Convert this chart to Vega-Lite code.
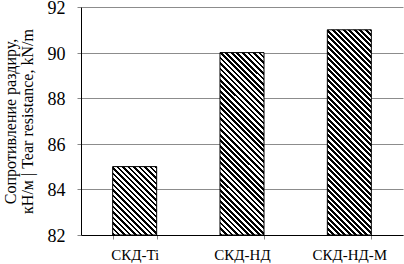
{
"$schema": "https://vega.github.io/schema/vega-lite/v6.json",
"width": 322, "height": 228, "autosize": "none",
"padding": {"left": 81, "top": 7, "right": 1, "bottom": 29},
"background": "white",
"data": {"values": [{"sample": "СКД-Ti", "value": 85}, {"sample": "СКД-НД", "value": 90}, {"sample": "СКД-НД-М", "value": 91}]},
"mark": {"type": "bar", "stroke": "#000", "strokeWidth": 1},
"encoding": {
"x": {"field": "sample", "type": "nominal", "sort": null, "scale": {"paddingInner": 0.59, "paddingOuter": 0.295},
 "axis": {"title": null, "labelAngle": 0, "labelFont": "Liberation Serif", "labelFontSize": 15, "labelColor": "#000", "labelPadding": 8, "tickBand": "extent", "tickSize": 4, "tickColor": "#888", "domainColor": "#000", "grid": false}},
"y": {"field": "value", "type": "quantitative", "scale": {"domain": [82, 92], "nice": false, "zero": false},
 "axis": {"values": [82, 84, 86, 88, 90, 92], "title": ["Сопротивление раздиру,", "кН/м | Tear resistance, kN/m"], "titleFont": "Liberation Serif", "titleFontSize": 16, "titleFontWeight": "normal", "titleColor": "#000", "titleX": -66, "titleY": 114, "titleAngle": -90, "titleAlign": "center", "titleBaseline": "alphabetic", "titleLineHeight": 17, "labelFont": "Liberation Serif", "labelFontSize": 18, "labelColor": "#000", "labelPadding": 12, "labelOffset": 1.5, "labelFlush": false, "labelOverlap": false, "tickSize": 4, "tickColor": "#888", "grid": true, "gridColor": "#8c8c8c", "domainColor": "#000"}},
"y2": {"datum": 82},
"fill": {"condition": [
 {"test": "datum.sample === 'СКД-Ti'", "value": {"gradient": "linear", "x1": 0, "y1": 1, "x2": 1.682956, "y2": -1.616232, "stops": [
{"offset":0,"color":"#000"},
{"offset":0.0109,"color":"#000"},{"offset":0.0109,"color":"#fff"},
{"offset":0.0217,"color":"#fff"},{"offset":0.0217,"color":"#000"},
{"offset":0.0326,"color":"#000"},{"offset":0.0326,"color":"#fff"},
{"offset":0.0435,"color":"#fff"},{"offset":0.0435,"color":"#000"},
{"offset":0.0543,"color":"#000"},{"offset":0.0543,"color":"#fff"},
{"offset":0.0652,"color":"#fff"},{"offset":0.0652,"color":"#000"},
{"offset":0.0761,"color":"#000"},{"offset":0.0761,"color":"#fff"},
{"offset":0.087,"color":"#fff"},{"offset":0.087,"color":"#000"},
{"offset":0.0978,"color":"#000"},{"offset":0.0978,"color":"#fff"},
{"offset":0.1087,"color":"#fff"},{"offset":0.1087,"color":"#000"},
{"offset":0.1196,"color":"#000"},{"offset":0.1196,"color":"#fff"},
{"offset":0.1304,"color":"#fff"},{"offset":0.1304,"color":"#000"},
{"offset":0.1413,"color":"#000"},{"offset":0.1413,"color":"#fff"},
{"offset":0.1522,"color":"#fff"},{"offset":0.1522,"color":"#000"},
{"offset":0.163,"color":"#000"},{"offset":0.163,"color":"#fff"},
{"offset":0.1739,"color":"#fff"},{"offset":0.1739,"color":"#000"},
{"offset":0.1848,"color":"#000"},{"offset":0.1848,"color":"#fff"},
{"offset":0.1957,"color":"#fff"},{"offset":0.1957,"color":"#000"},
{"offset":0.2065,"color":"#000"},{"offset":0.2065,"color":"#fff"},
{"offset":0.2174,"color":"#fff"},{"offset":0.2174,"color":"#000"},
{"offset":0.2283,"color":"#000"},{"offset":0.2283,"color":"#fff"},
{"offset":0.2391,"color":"#fff"},{"offset":0.2391,"color":"#000"},
{"offset":0.25,"color":"#000"},{"offset":0.25,"color":"#fff"},
{"offset":0.2609,"color":"#fff"},{"offset":0.2609,"color":"#000"},
{"offset":0.2717,"color":"#000"},{"offset":0.2717,"color":"#fff"},
{"offset":0.2826,"color":"#fff"},{"offset":0.2826,"color":"#000"},
{"offset":0.2935,"color":"#000"},{"offset":0.2935,"color":"#fff"},
{"offset":0.3043,"color":"#fff"},{"offset":0.3043,"color":"#000"},
{"offset":0.3152,"color":"#000"},{"offset":0.3152,"color":"#fff"},
{"offset":0.3261,"color":"#fff"},{"offset":0.3261,"color":"#000"},
{"offset":0.337,"color":"#000"},{"offset":0.337,"color":"#fff"},
{"offset":0.3478,"color":"#fff"},{"offset":0.3478,"color":"#000"},
{"offset":0.3587,"color":"#000"},{"offset":0.3587,"color":"#fff"},
{"offset":0.3696,"color":"#fff"},{"offset":0.3696,"color":"#000"},
{"offset":0.3804,"color":"#000"},{"offset":0.3804,"color":"#fff"},
{"offset":0.3913,"color":"#fff"},{"offset":0.3913,"color":"#000"},
{"offset":0.4022,"color":"#000"},{"offset":0.4022,"color":"#fff"},
{"offset":0.413,"color":"#fff"},{"offset":0.413,"color":"#000"},
{"offset":0.4239,"color":"#000"},{"offset":0.4239,"color":"#fff"},
{"offset":0.4348,"color":"#fff"},{"offset":0.4348,"color":"#000"},
{"offset":0.4457,"color":"#000"},{"offset":0.4457,"color":"#fff"},
{"offset":0.4565,"color":"#fff"},{"offset":0.4565,"color":"#000"},
{"offset":0.4674,"color":"#000"},{"offset":0.4674,"color":"#fff"},
{"offset":0.4783,"color":"#fff"},{"offset":0.4783,"color":"#000"},
{"offset":0.4891,"color":"#000"},{"offset":0.4891,"color":"#fff"},
{"offset":0.5,"color":"#fff"}]}},
 {"test": "datum.sample === 'СКД-НД'", "value": {"gradient": "linear", "x1": 0, "y1": 1, "x2": 0.316198, "y2": -0.310785, "stops": [
{"offset":0,"color":"#000"},
{"offset":0.0109,"color":"#000"},{"offset":0.0109,"color":"#fff"},
{"offset":0.0217,"color":"#fff"},{"offset":0.0217,"color":"#000"},
{"offset":0.0326,"color":"#000"},{"offset":0.0326,"color":"#fff"},
{"offset":0.0435,"color":"#fff"},{"offset":0.0435,"color":"#000"},
{"offset":0.0543,"color":"#000"},{"offset":0.0543,"color":"#fff"},
{"offset":0.0652,"color":"#fff"},{"offset":0.0652,"color":"#000"},
{"offset":0.0761,"color":"#000"},{"offset":0.0761,"color":"#fff"},
{"offset":0.087,"color":"#fff"},{"offset":0.087,"color":"#000"},
{"offset":0.0978,"color":"#000"},{"offset":0.0978,"color":"#fff"},
{"offset":0.1087,"color":"#fff"},{"offset":0.1087,"color":"#000"},
{"offset":0.1196,"color":"#000"},{"offset":0.1196,"color":"#fff"},
{"offset":0.1304,"color":"#fff"},{"offset":0.1304,"color":"#000"},
{"offset":0.1413,"color":"#000"},{"offset":0.1413,"color":"#fff"},
{"offset":0.1522,"color":"#fff"},{"offset":0.1522,"color":"#000"},
{"offset":0.163,"color":"#000"},{"offset":0.163,"color":"#fff"},
{"offset":0.1739,"color":"#fff"},{"offset":0.1739,"color":"#000"},
{"offset":0.1848,"color":"#000"},{"offset":0.1848,"color":"#fff"},
{"offset":0.1957,"color":"#fff"},{"offset":0.1957,"color":"#000"},
{"offset":0.2065,"color":"#000"},{"offset":0.2065,"color":"#fff"},
{"offset":0.2174,"color":"#fff"},{"offset":0.2174,"color":"#000"},
{"offset":0.2283,"color":"#000"},{"offset":0.2283,"color":"#fff"},
{"offset":0.2391,"color":"#fff"},{"offset":0.2391,"color":"#000"},
{"offset":0.25,"color":"#000"},{"offset":0.25,"color":"#fff"},
{"offset":0.2609,"color":"#fff"},{"offset":0.2609,"color":"#000"},
{"offset":0.2717,"color":"#000"},{"offset":0.2717,"color":"#fff"},
{"offset":0.2826,"color":"#fff"},{"offset":0.2826,"color":"#000"},
{"offset":0.2935,"color":"#000"},{"offset":0.2935,"color":"#fff"},
{"offset":0.3043,"color":"#fff"},{"offset":0.3043,"color":"#000"},
{"offset":0.3152,"color":"#000"},{"offset":0.3152,"color":"#fff"},
{"offset":0.3261,"color":"#fff"},{"offset":0.3261,"color":"#000"},
{"offset":0.337,"color":"#000"},{"offset":0.337,"color":"#fff"},
{"offset":0.3478,"color":"#fff"},{"offset":0.3478,"color":"#000"},
{"offset":0.3587,"color":"#000"},{"offset":0.3587,"color":"#fff"},
{"offset":0.3696,"color":"#fff"},{"offset":0.3696,"color":"#000"},
{"offset":0.3804,"color":"#000"},{"offset":0.3804,"color":"#fff"},
{"offset":0.3913,"color":"#fff"},{"offset":0.3913,"color":"#000"},
{"offset":0.4022,"color":"#000"},{"offset":0.4022,"color":"#fff"},
{"offset":0.413,"color":"#fff"},{"offset":0.413,"color":"#000"},
{"offset":0.4239,"color":"#000"},{"offset":0.4239,"color":"#fff"},
{"offset":0.4348,"color":"#fff"},{"offset":0.4348,"color":"#000"},
{"offset":0.4457,"color":"#000"},{"offset":0.4457,"color":"#fff"},
{"offset":0.4565,"color":"#fff"},{"offset":0.4565,"color":"#000"},
{"offset":0.4674,"color":"#000"},{"offset":0.4674,"color":"#fff"},
{"offset":0.4783,"color":"#fff"},{"offset":0.4783,"color":"#000"},
{"offset":0.4891,"color":"#000"},{"offset":0.4891,"color":"#fff"},
{"offset":0.5,"color":"#fff"},{"offset":0.5,"color":"#000"},
{"offset":0.5109,"color":"#000"},{"offset":0.5109,"color":"#fff"},
{"offset":0.5217,"color":"#fff"},{"offset":0.5217,"color":"#000"},
{"offset":0.5326,"color":"#000"},{"offset":0.5326,"color":"#fff"},
{"offset":0.5435,"color":"#fff"},{"offset":0.5435,"color":"#000"},
{"offset":0.5543,"color":"#000"},{"offset":0.5543,"color":"#fff"},
{"offset":0.5652,"color":"#fff"},{"offset":0.5652,"color":"#000"},
{"offset":0.5761,"color":"#000"},{"offset":0.5761,"color":"#fff"},
{"offset":0.587,"color":"#fff"},{"offset":0.587,"color":"#000"},
{"offset":0.5978,"color":"#000"},{"offset":0.5978,"color":"#fff"},
{"offset":0.6087,"color":"#fff"},{"offset":0.6087,"color":"#000"},
{"offset":0.6196,"color":"#000"},{"offset":0.6196,"color":"#fff"},
{"offset":0.6304,"color":"#fff"},{"offset":0.6304,"color":"#000"},
{"offset":0.6413,"color":"#000"},{"offset":0.6413,"color":"#fff"},
{"offset":0.6522,"color":"#fff"},{"offset":0.6522,"color":"#000"},
{"offset":0.663,"color":"#000"},{"offset":0.663,"color":"#fff"},
{"offset":0.6739,"color":"#fff"},{"offset":0.6739,"color":"#000"},
{"offset":0.6848,"color":"#000"},{"offset":0.6848,"color":"#fff"},
{"offset":0.6957,"color":"#fff"},{"offset":0.6957,"color":"#000"},
{"offset":0.7065,"color":"#000"},{"offset":0.7065,"color":"#fff"},
{"offset":0.7174,"color":"#fff"},{"offset":0.7174,"color":"#000"},
{"offset":0.7283,"color":"#000"},{"offset":0.7283,"color":"#fff"},
{"offset":0.7391,"color":"#fff"},{"offset":0.7391,"color":"#000"},
{"offset":0.75,"color":"#000"},{"offset":0.75,"color":"#fff"},
{"offset":0.7609,"color":"#fff"},{"offset":0.7609,"color":"#000"},
{"offset":0.7717,"color":"#000"},{"offset":0.7717,"color":"#fff"},
{"offset":0.7826,"color":"#fff"},{"offset":0.7826,"color":"#000"},
{"offset":0.7935,"color":"#000"},{"offset":0.7935,"color":"#fff"},
{"offset":0.8043,"color":"#fff"},{"offset":0.8043,"color":"#000"},
{"offset":0.8152,"color":"#000"},{"offset":0.8152,"color":"#fff"},
{"offset":0.8261,"color":"#fff"},{"offset":0.8261,"color":"#000"},
{"offset":0.837,"color":"#000"},{"offset":0.837,"color":"#fff"},
{"offset":0.8478,"color":"#fff"},{"offset":0.8478,"color":"#000"},
{"offset":0.8587,"color":"#000"},{"offset":0.8587,"color":"#fff"},
{"offset":0.8696,"color":"#fff"},{"offset":0.8696,"color":"#000"},
{"offset":0.8804,"color":"#000"},{"offset":0.8804,"color":"#fff"},
{"offset":0.8913,"color":"#fff"},{"offset":0.8913,"color":"#000"},
{"offset":0.9022,"color":"#000"},{"offset":0.9022,"color":"#fff"},
{"offset":0.913,"color":"#fff"},{"offset":0.913,"color":"#000"},
{"offset":0.9239,"color":"#000"},{"offset":0.9239,"color":"#fff"},
{"offset":0.9348,"color":"#fff"}]}}
 ],
 "value": {"gradient": "linear", "x1": 0, "y1": 1, "x2": 0.252752, "y2": -0.178745, "stops": [
{"offset":0,"color":"#000"},
{"offset":0.0109,"color":"#000"},{"offset":0.0109,"color":"#fff"},
{"offset":0.0217,"color":"#fff"},{"offset":0.0217,"color":"#000"},
{"offset":0.0326,"color":"#000"},{"offset":0.0326,"color":"#fff"},
{"offset":0.0435,"color":"#fff"},{"offset":0.0435,"color":"#000"},
{"offset":0.0543,"color":"#000"},{"offset":0.0543,"color":"#fff"},
{"offset":0.0652,"color":"#fff"},{"offset":0.0652,"color":"#000"},
{"offset":0.0761,"color":"#000"},{"offset":0.0761,"color":"#fff"},
{"offset":0.087,"color":"#fff"},{"offset":0.087,"color":"#000"},
{"offset":0.0978,"color":"#000"},{"offset":0.0978,"color":"#fff"},
{"offset":0.1087,"color":"#fff"},{"offset":0.1087,"color":"#000"},
{"offset":0.1196,"color":"#000"},{"offset":0.1196,"color":"#fff"},
{"offset":0.1304,"color":"#fff"},{"offset":0.1304,"color":"#000"},
{"offset":0.1413,"color":"#000"},{"offset":0.1413,"color":"#fff"},
{"offset":0.1522,"color":"#fff"},{"offset":0.1522,"color":"#000"},
{"offset":0.163,"color":"#000"},{"offset":0.163,"color":"#fff"},
{"offset":0.1739,"color":"#fff"},{"offset":0.1739,"color":"#000"},
{"offset":0.1848,"color":"#000"},{"offset":0.1848,"color":"#fff"},
{"offset":0.1957,"color":"#fff"},{"offset":0.1957,"color":"#000"},
{"offset":0.2065,"color":"#000"},{"offset":0.2065,"color":"#fff"},
{"offset":0.2174,"color":"#fff"},{"offset":0.2174,"color":"#000"},
{"offset":0.2283,"color":"#000"},{"offset":0.2283,"color":"#fff"},
{"offset":0.2391,"color":"#fff"},{"offset":0.2391,"color":"#000"},
{"offset":0.25,"color":"#000"},{"offset":0.25,"color":"#fff"},
{"offset":0.2609,"color":"#fff"},{"offset":0.2609,"color":"#000"},
{"offset":0.2717,"color":"#000"},{"offset":0.2717,"color":"#fff"},
{"offset":0.2826,"color":"#fff"},{"offset":0.2826,"color":"#000"},
{"offset":0.2935,"color":"#000"},{"offset":0.2935,"color":"#fff"},
{"offset":0.3043,"color":"#fff"},{"offset":0.3043,"color":"#000"},
{"offset":0.3152,"color":"#000"},{"offset":0.3152,"color":"#fff"},
{"offset":0.3261,"color":"#fff"},{"offset":0.3261,"color":"#000"},
{"offset":0.337,"color":"#000"},{"offset":0.337,"color":"#fff"},
{"offset":0.3478,"color":"#fff"},{"offset":0.3478,"color":"#000"},
{"offset":0.3587,"color":"#000"},{"offset":0.3587,"color":"#fff"},
{"offset":0.3696,"color":"#fff"},{"offset":0.3696,"color":"#000"},
{"offset":0.3804,"color":"#000"},{"offset":0.3804,"color":"#fff"},
{"offset":0.3913,"color":"#fff"},{"offset":0.3913,"color":"#000"},
{"offset":0.4022,"color":"#000"},{"offset":0.4022,"color":"#fff"},
{"offset":0.413,"color":"#fff"},{"offset":0.413,"color":"#000"},
{"offset":0.4239,"color":"#000"},{"offset":0.4239,"color":"#fff"},
{"offset":0.4348,"color":"#fff"},{"offset":0.4348,"color":"#000"},
{"offset":0.4457,"color":"#000"},{"offset":0.4457,"color":"#fff"},
{"offset":0.4565,"color":"#fff"},{"offset":0.4565,"color":"#000"},
{"offset":0.4674,"color":"#000"},{"offset":0.4674,"color":"#fff"},
{"offset":0.4783,"color":"#fff"},{"offset":0.4783,"color":"#000"},
{"offset":0.4891,"color":"#000"},{"offset":0.4891,"color":"#fff"},
{"offset":0.5,"color":"#fff"},{"offset":0.5,"color":"#000"},
{"offset":0.5109,"color":"#000"},{"offset":0.5109,"color":"#fff"},
{"offset":0.5217,"color":"#fff"},{"offset":0.5217,"color":"#000"},
{"offset":0.5326,"color":"#000"},{"offset":0.5326,"color":"#fff"},
{"offset":0.5435,"color":"#fff"},{"offset":0.5435,"color":"#000"},
{"offset":0.5543,"color":"#000"},{"offset":0.5543,"color":"#fff"},
{"offset":0.5652,"color":"#fff"},{"offset":0.5652,"color":"#000"},
{"offset":0.5761,"color":"#000"},{"offset":0.5761,"color":"#fff"},
{"offset":0.587,"color":"#fff"},{"offset":0.587,"color":"#000"},
{"offset":0.5978,"color":"#000"},{"offset":0.5978,"color":"#fff"},
{"offset":0.6087,"color":"#fff"},{"offset":0.6087,"color":"#000"},
{"offset":0.6196,"color":"#000"},{"offset":0.6196,"color":"#fff"},
{"offset":0.6304,"color":"#fff"},{"offset":0.6304,"color":"#000"},
{"offset":0.6413,"color":"#000"},{"offset":0.6413,"color":"#fff"},
{"offset":0.6522,"color":"#fff"},{"offset":0.6522,"color":"#000"},
{"offset":0.663,"color":"#000"},{"offset":0.663,"color":"#fff"},
{"offset":0.6739,"color":"#fff"},{"offset":0.6739,"color":"#000"},
{"offset":0.6848,"color":"#000"},{"offset":0.6848,"color":"#fff"},
{"offset":0.6957,"color":"#fff"},{"offset":0.6957,"color":"#000"},
{"offset":0.7065,"color":"#000"},{"offset":0.7065,"color":"#fff"},
{"offset":0.7174,"color":"#fff"},{"offset":0.7174,"color":"#000"},
{"offset":0.7283,"color":"#000"},{"offset":0.7283,"color":"#fff"},
{"offset":0.7391,"color":"#fff"},{"offset":0.7391,"color":"#000"},
{"offset":0.75,"color":"#000"},{"offset":0.75,"color":"#fff"},
{"offset":0.7609,"color":"#fff"},{"offset":0.7609,"color":"#000"},
{"offset":0.7717,"color":"#000"},{"offset":0.7717,"color":"#fff"},
{"offset":0.7826,"color":"#fff"},{"offset":0.7826,"color":"#000"},
{"offset":0.7935,"color":"#000"},{"offset":0.7935,"color":"#fff"},
{"offset":0.8043,"color":"#fff"},{"offset":0.8043,"color":"#000"},
{"offset":0.8152,"color":"#000"},{"offset":0.8152,"color":"#fff"},
{"offset":0.8261,"color":"#fff"},{"offset":0.8261,"color":"#000"},
{"offset":0.837,"color":"#000"},{"offset":0.837,"color":"#fff"},
{"offset":0.8478,"color":"#fff"},{"offset":0.8478,"color":"#000"},
{"offset":0.8587,"color":"#000"},{"offset":0.8587,"color":"#fff"},
{"offset":0.8696,"color":"#fff"},{"offset":0.8696,"color":"#000"},
{"offset":0.8804,"color":"#000"},{"offset":0.8804,"color":"#fff"},
{"offset":0.8913,"color":"#fff"},{"offset":0.8913,"color":"#000"},
{"offset":0.9022,"color":"#000"},{"offset":0.9022,"color":"#fff"},
{"offset":0.913,"color":"#fff"},{"offset":0.913,"color":"#000"},
{"offset":0.9239,"color":"#000"},{"offset":0.9239,"color":"#fff"},
{"offset":0.9348,"color":"#fff"},{"offset":0.9348,"color":"#000"},
{"offset":0.9457,"color":"#000"},{"offset":0.9457,"color":"#fff"},
{"offset":0.9565,"color":"#fff"},{"offset":0.9565,"color":"#000"},
{"offset":0.9674,"color":"#000"},{"offset":0.9674,"color":"#fff"},
{"offset":0.9783,"color":"#fff"},{"offset":0.9783,"color":"#000"},
{"offset":0.9891,"color":"#000"},{"offset":0.9891,"color":"#fff"},
{"offset":1,"color":"#fff"}]}}
},
"config": {"view": {"stroke": null}, "font": "Liberation Serif"}
}
